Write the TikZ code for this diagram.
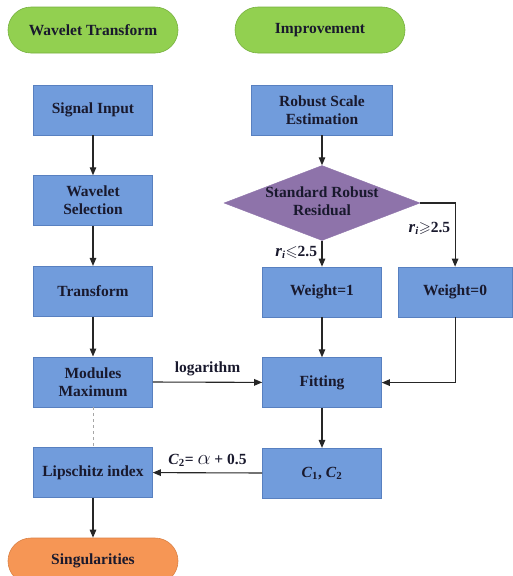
\documentclass[tikz,border=0pt]{standalone}
\usepackage{amssymb}
\usepackage{fontspec}
\setmainfont{Liberation Serif}
\usetikzlibrary{arrows.meta,positioning,shapes.geometric}

\definecolor{boxblue}{RGB}{113,156,220}
\definecolor{boxedge}{RGB}{88,128,192}
\definecolor{pillgreen}{RGB}{146,208,80}
\definecolor{pillgreenedge}{RGB}{118,176,62}
\definecolor{pillorange}{RGB}{246,150,85}
\definecolor{pillorangeedge}{RGB}{218,128,68}
\definecolor{decpurple}{RGB}{142,115,170}
\definecolor{inkdark}{RGB}{25,25,45}

\newcommand{\ri}{{\fontsize{17}{18}\selectfont\textit{r}}\textsubscript{\textit{i}}}

\begin{document}
\begin{tikzpicture}[
    x=1pt, y=-1pt,
    node distance=40pt,
    every node/.style={font=\bfseries\fontsize{15.5}{18}\selectfont, align=center, text=inkdark},
    box/.style={
      rectangle, draw=boxedge, line width=0.6pt, fill=boxblue,
      minimum width=119pt, minimum height=50pt, inner sep=2pt
    },
    header/.style={
      rectangle, rounded corners=23pt, draw=pillgreenedge, line width=0.6pt,
      fill=pillgreen, minimum width=170pt, minimum height=46pt
    },
    endpill/.style={header, draw=pillorangeedge, fill=pillorange},
    decision/.style={
      diamond, draw=decpurple, fill=decpurple, inner sep=0pt,
      minimum width=196pt, minimum height=75pt
    },
    flow/.style={-{Triangle[length=8pt,width=6.5pt]}, line width=1.1pt, draw=black!85}
  ]
    \useasboundingbox (0,0) rectangle (512,576);

    % headers
    \node[header] (wt) at (93,30) {Wavelet Transform};
    \node[header] (imp) at (320,30) {Improvement};

    % wavelet column
    \node[box] (sig) at (93,110) {Signal Input};
    \node[box, below=of sig] (wsel) {Wavelet\\Selection};
    \node[box, below=of wsel] (trans) {Transform};
    \node[box, below=of trans] (modmax) {Modules\\Maximum};
    \node[box, below=of modmax] (lip) {Lipschitz index};
    \node[endpill, below=of lip] (sing) {Singularities};

    % improvement column
    \node[box, minimum width=141pt] (rse) at (322,110) {Robust Scale\\Estimation};
    \node[decision, below=30pt of rse] (resid) {};
    \node (residlbl) at ([yshift=2pt]resid.center) {Standard Robust\\Residual};
    \node[box, below=26pt of resid] (wone) {Weight=1};
    \node[box, below=of wone] (fitting) {Fitting};
    \node[box, below=of fitting] (coef) {\textit{C}\textsubscript{1}, \textit{C}\textsubscript{2}};
    \node[box, minimum width=114pt, right=16pt of wone] (wzero) {Weight=0};

    % connectors
    \draw[flow] (sig) -- (wsel);
    \draw[flow] (wsel) -- (trans);
    \draw[flow] (trans) -- (modmax);
    \draw[flow] (lip) -- (sing);
    \draw[gray!70, line width=1pt, dashed] (modmax) -- (lip);
    \draw[flow] (modmax) -- node[above=2pt] (loglbl) {logarithm} (fitting);
    \draw[flow] (rse) -- (resid);
    \draw[flow] (resid) -- node[pos=0.45, left=1pt] (lelbl) {\ri$\leqslant$2.5} (wone);
    \draw[flow] (resid.east) -| node[pos=0.7, left=1pt] (gelbl) {\ri$\geqslant$2.5} (wzero.north);
    \draw[flow] (wone) -- (fitting);
    \draw[flow] (wzero.south) |- (fitting.east);
    \draw[flow] (fitting) -- (coef);
    \draw[flow] (coef) -- node[above=2pt] (clbl) {\textit{C}\textsubscript{2}= {\fontsize{21}{21}\selectfont$\alpha$} + 0.5} (lip);
\end{tikzpicture}
\end{document}
